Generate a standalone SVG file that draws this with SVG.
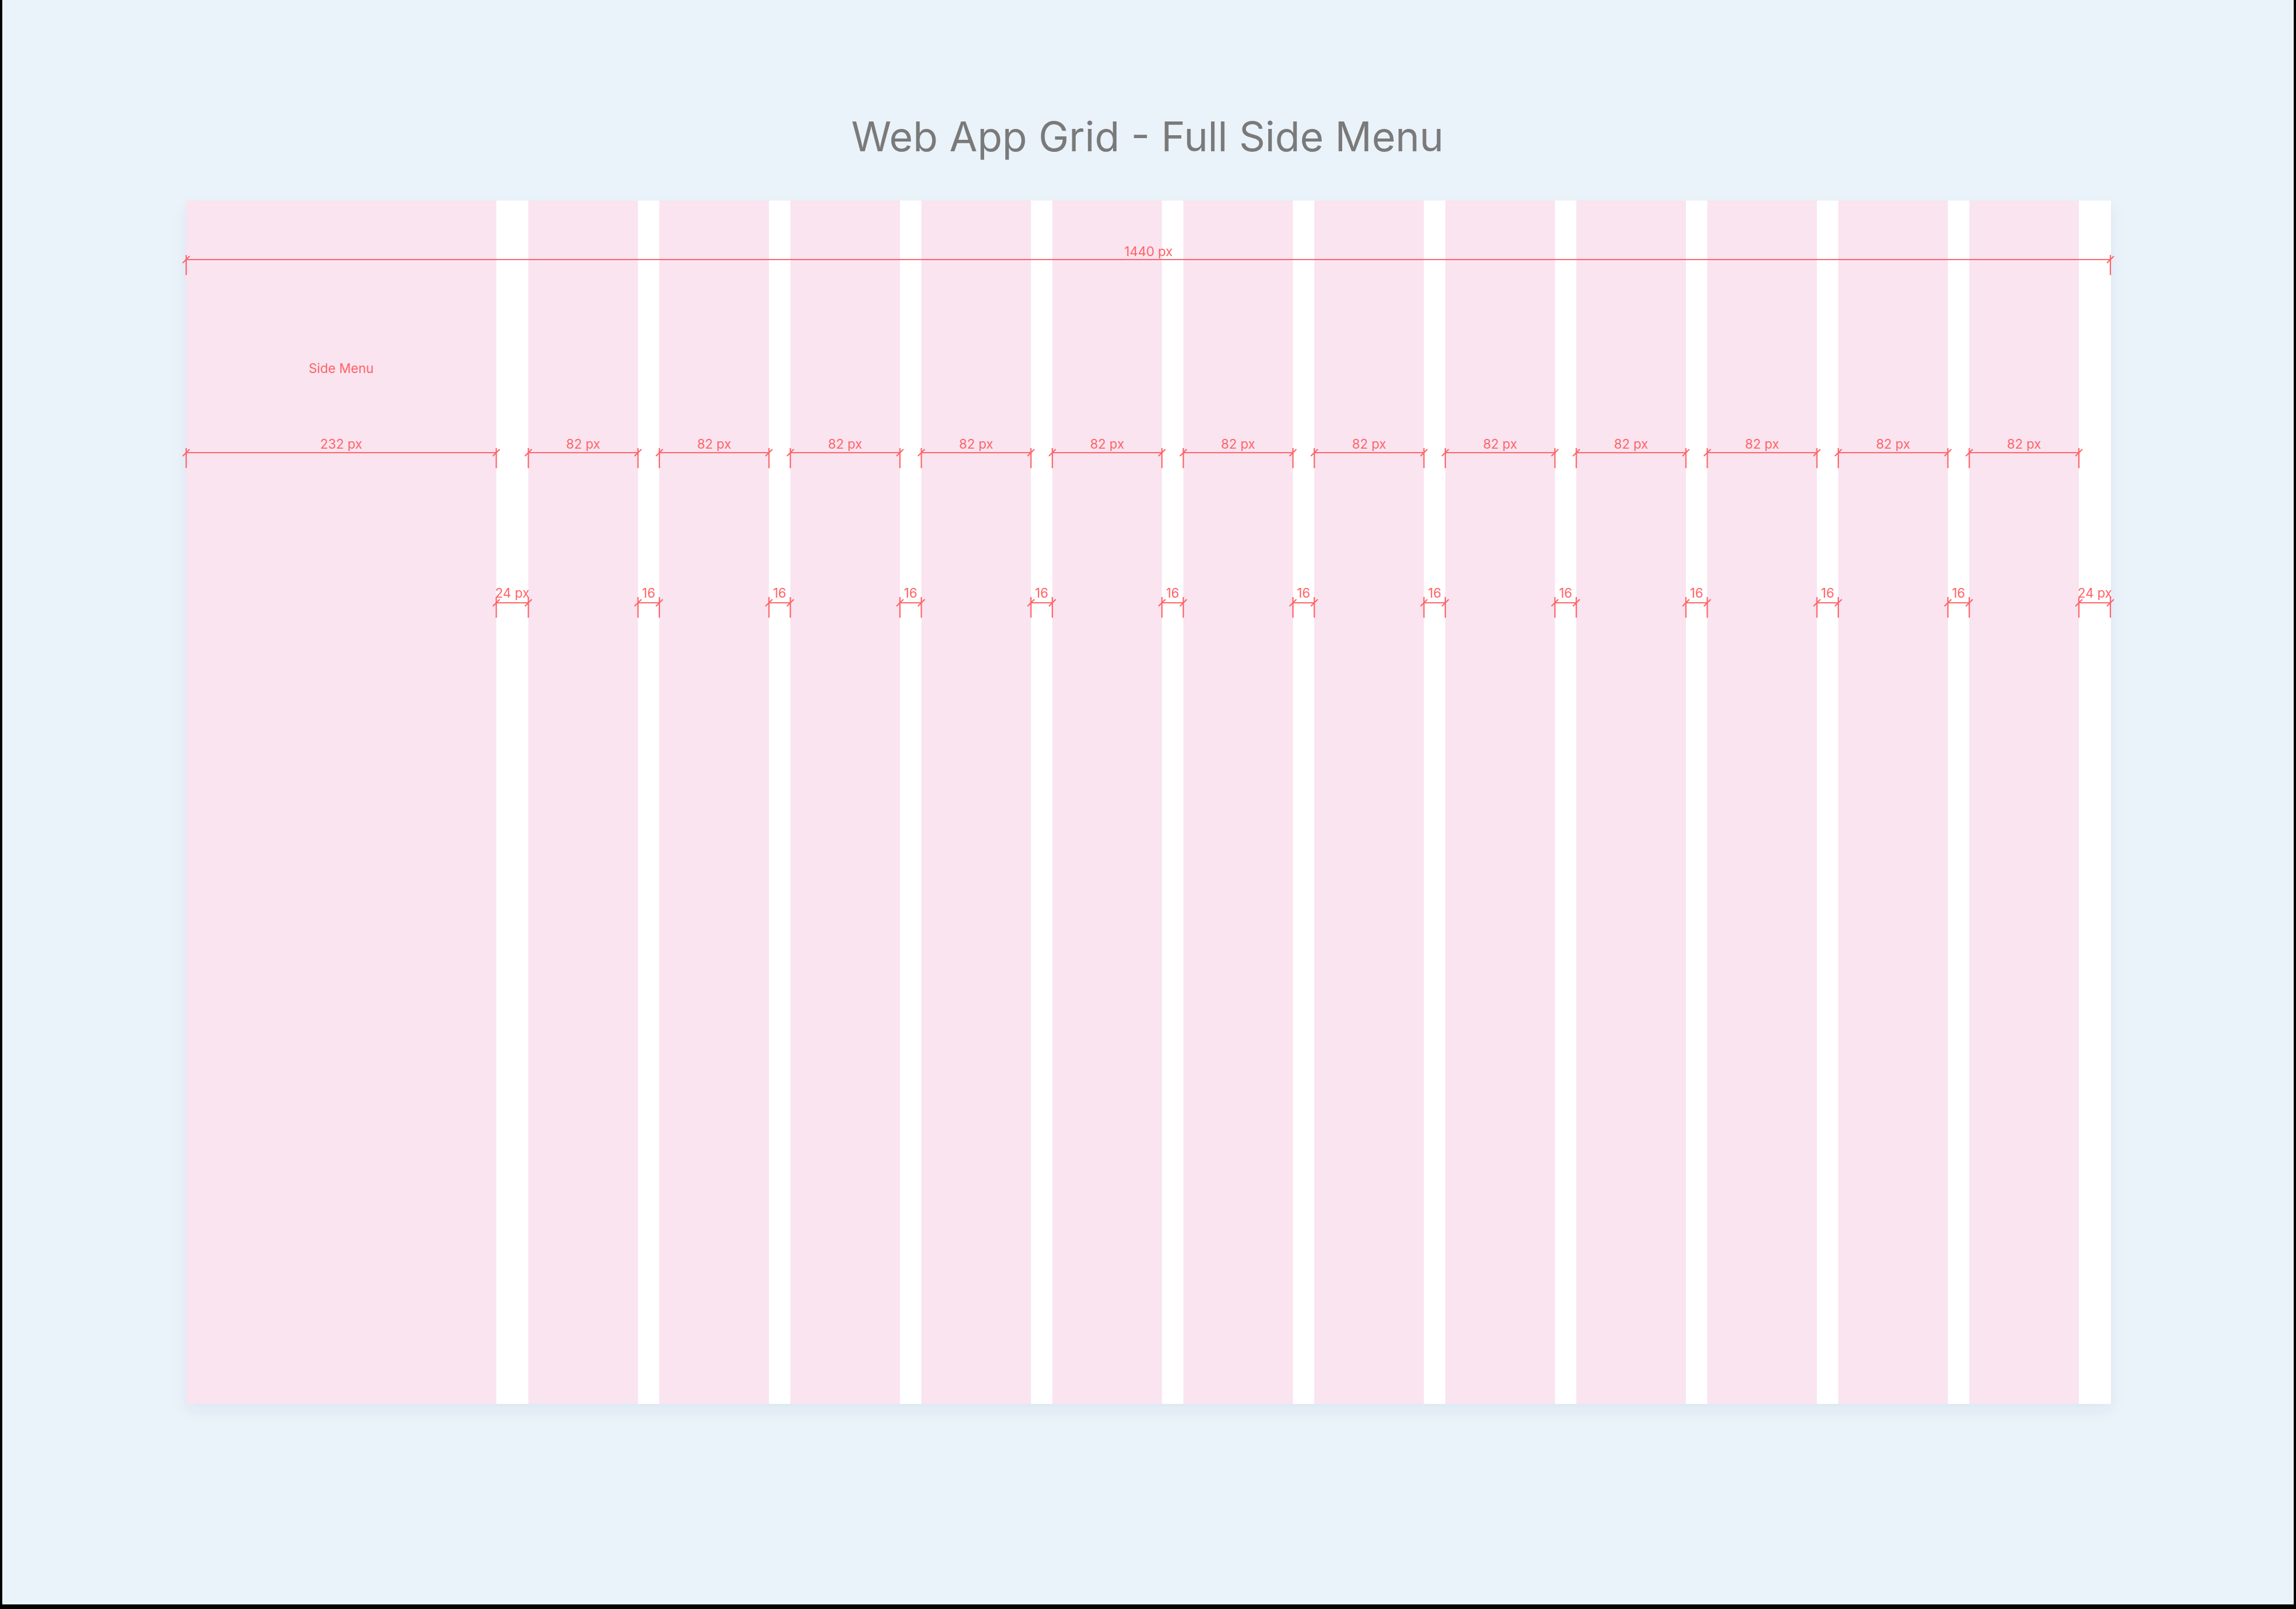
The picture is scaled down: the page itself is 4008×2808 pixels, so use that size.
<svg xmlns="http://www.w3.org/2000/svg" xmlns:xlink="http://www.w3.org/1999/xlink" width="4008" height="2808" viewBox="0 0 4008 2808">
  <style>
    .col { fill: #F9E4F0; }
    .dim { stroke: #FF6468; stroke-width: 2.2; fill: none; }
    .lbl { font-family: Inter, "Noto Sans", "Liberation Sans", sans-serif; font-size: 22.5px; fill: #FF6468; text-anchor: middle; }
    .title { font-family: Inter, "Noto Sans", "Liberation Sans", sans-serif; font-size: 71px; fill: #7A7A7A; text-anchor: middle; }
  </style>
  <defs>
    <filter id="shadow" x="-5%" y="-5%" width="110%" height="110%">
      <feDropShadow dx="0" dy="12" stdDeviation="12" flood-color="#1F3A5A" flood-opacity="0.06"/>
    </filter>
    <path id="tA" class="dim" d="M0,-8 V27 M-6,6 L6,-6"/>
    <path id="tB" class="dim" d="M0,-10 V26 M-6,6 L6,-6"/>
  </defs>

  <rect x="0" y="0" width="4008" height="2808" fill="#000"/>
  <rect x="4" y="0" width="4000" height="2800" fill="#EAF2FA"/>

  <g id="title">
    <text class="title" x="2003" y="264">Web App Grid - Full Side Menu</text>
  </g>

  <g id="grid">
    <rect x="325" y="350" width="3360" height="2100" fill="#FFFFFF" filter="url(#shadow)"/>
    <g id="side-menu">
      <rect class="col" x="325" y="350" width="541.33" height="2100"/>
      <text class="lbl" x="595.7" y="651">Side Menu</text>
    </g>
    <g id="columns">
      <rect id="col1" class="col" x="922.33" y="350" width="191.33" height="2100"/>
      <rect id="col2" class="col" x="1151" y="350" width="191.33" height="2100"/>
      <rect id="col3" class="col" x="1379.67" y="350" width="191.33" height="2100"/>
      <rect id="col4" class="col" x="1608.33" y="350" width="191.33" height="2100"/>
      <rect id="col5" class="col" x="1837" y="350" width="191.33" height="2100"/>
      <rect id="col6" class="col" x="2065.67" y="350" width="191.33" height="2100"/>
      <rect id="col7" class="col" x="2294.33" y="350" width="191.33" height="2100"/>
      <rect id="col8" class="col" x="2523" y="350" width="191.33" height="2100"/>
      <rect id="col9" class="col" x="2751.67" y="350" width="191.33" height="2100"/>
      <rect id="col10" class="col" x="2980.33" y="350" width="191.33" height="2100"/>
      <rect id="col11" class="col" x="3209" y="350" width="191.33" height="2100"/>
      <rect id="col12" class="col" x="3437.67" y="350" width="191.33" height="2100"/>
    </g>
  </g>

  <g id="dimensions">
    <g id="dim-total">
      <line class="dim" x1="325" y1="453" x2="3685" y2="453"/>
      <use href="#tA" x="325" y="453"/>
      <use href="#tA" x="3684" y="453"/>
      <text class="lbl" x="2005" y="447">1440 px</text>
    </g>

    <g id="dim-cols">
      <line class="dim" x1="325" y1="790" x2="866.33" y2="790"/>
      <use href="#tA" x="325" y="790"/><use href="#tA" x="866.33" y="790"/>
      <text class="lbl" x="595.7" y="783">232 px</text>

      <line class="dim" x1="922.33" y1="790" x2="1113.67" y2="790"/>
      <use href="#tA" x="922.33" y="790"/><use href="#tA" x="1113.67" y="790"/>
      <text class="lbl" x="1018" y="783">82 px</text>

      <line class="dim" x1="1151" y1="790" x2="1342.33" y2="790"/>
      <use href="#tA" x="1151" y="790"/><use href="#tA" x="1342.33" y="790"/>
      <text class="lbl" x="1246.67" y="783">82 px</text>

      <line class="dim" x1="1379.67" y1="790" x2="1571" y2="790"/>
      <use href="#tA" x="1379.67" y="790"/><use href="#tA" x="1571" y="790"/>
      <text class="lbl" x="1475.33" y="783">82 px</text>

      <line class="dim" x1="1608.33" y1="790" x2="1799.67" y2="790"/>
      <use href="#tA" x="1608.33" y="790"/><use href="#tA" x="1799.67" y="790"/>
      <text class="lbl" x="1704" y="783">82 px</text>

      <line class="dim" x1="1837" y1="790" x2="2028.33" y2="790"/>
      <use href="#tA" x="1837" y="790"/><use href="#tA" x="2028.33" y="790"/>
      <text class="lbl" x="1932.67" y="783">82 px</text>

      <line class="dim" x1="2065.67" y1="790" x2="2257" y2="790"/>
      <use href="#tA" x="2065.67" y="790"/><use href="#tA" x="2257" y="790"/>
      <text class="lbl" x="2161.33" y="783">82 px</text>

      <line class="dim" x1="2294.33" y1="790" x2="2485.67" y2="790"/>
      <use href="#tA" x="2294.33" y="790"/><use href="#tA" x="2485.67" y="790"/>
      <text class="lbl" x="2390" y="783">82 px</text>

      <line class="dim" x1="2523" y1="790" x2="2714.33" y2="790"/>
      <use href="#tA" x="2523" y="790"/><use href="#tA" x="2714.33" y="790"/>
      <text class="lbl" x="2618.67" y="783">82 px</text>

      <line class="dim" x1="2751.67" y1="790" x2="2943" y2="790"/>
      <use href="#tA" x="2751.67" y="790"/><use href="#tA" x="2943" y="790"/>
      <text class="lbl" x="2847.33" y="783">82 px</text>

      <line class="dim" x1="2980.33" y1="790" x2="3171.67" y2="790"/>
      <use href="#tA" x="2980.33" y="790"/><use href="#tA" x="3171.67" y="790"/>
      <text class="lbl" x="3076" y="783">82 px</text>

      <line class="dim" x1="3209" y1="790" x2="3400.33" y2="790"/>
      <use href="#tA" x="3209" y="790"/><use href="#tA" x="3400.33" y="790"/>
      <text class="lbl" x="3304.67" y="783">82 px</text>

      <line class="dim" x1="3437.67" y1="790" x2="3629" y2="790"/>
      <use href="#tA" x="3437.67" y="790"/><use href="#tA" x="3629" y="790"/>
      <text class="lbl" x="3533.33" y="783">82 px</text>
    </g>

    <g id="dim-gutters">
      <line class="dim" x1="866.33" y1="1052" x2="922.33" y2="1052"/>
      <use href="#tB" x="866.33" y="1052"/><use href="#tB" x="922.33" y="1052"/>
      <text class="lbl" x="894.33" y="1043">24 px</text>

      <line class="dim" x1="1113.67" y1="1052" x2="1151" y2="1052"/>
      <use href="#tB" x="1113.67" y="1052"/><use href="#tB" x="1151" y="1052"/>
      <text class="lbl" x="1132.33" y="1043">16</text>

      <line class="dim" x1="1342.33" y1="1052" x2="1379.67" y2="1052"/>
      <use href="#tB" x="1342.33" y="1052"/><use href="#tB" x="1379.67" y="1052"/>
      <text class="lbl" x="1361" y="1043">16</text>

      <line class="dim" x1="1571" y1="1052" x2="1608.33" y2="1052"/>
      <use href="#tB" x="1571" y="1052"/><use href="#tB" x="1608.33" y="1052"/>
      <text class="lbl" x="1589.67" y="1043">16</text>

      <line class="dim" x1="1799.67" y1="1052" x2="1837" y2="1052"/>
      <use href="#tB" x="1799.67" y="1052"/><use href="#tB" x="1837" y="1052"/>
      <text class="lbl" x="1818.33" y="1043">16</text>

      <line class="dim" x1="2028.33" y1="1052" x2="2065.67" y2="1052"/>
      <use href="#tB" x="2028.33" y="1052"/><use href="#tB" x="2065.67" y="1052"/>
      <text class="lbl" x="2047" y="1043">16</text>

      <line class="dim" x1="2257" y1="1052" x2="2294.33" y2="1052"/>
      <use href="#tB" x="2257" y="1052"/><use href="#tB" x="2294.33" y="1052"/>
      <text class="lbl" x="2275.67" y="1043">16</text>

      <line class="dim" x1="2485.67" y1="1052" x2="2523" y2="1052"/>
      <use href="#tB" x="2485.67" y="1052"/><use href="#tB" x="2523" y="1052"/>
      <text class="lbl" x="2504.33" y="1043">16</text>

      <line class="dim" x1="2714.33" y1="1052" x2="2751.67" y2="1052"/>
      <use href="#tB" x="2714.33" y="1052"/><use href="#tB" x="2751.67" y="1052"/>
      <text class="lbl" x="2733" y="1043">16</text>

      <line class="dim" x1="2943" y1="1052" x2="2980.33" y2="1052"/>
      <use href="#tB" x="2943" y="1052"/><use href="#tB" x="2980.33" y="1052"/>
      <text class="lbl" x="2961.67" y="1043">16</text>

      <line class="dim" x1="3171.67" y1="1052" x2="3209" y2="1052"/>
      <use href="#tB" x="3171.67" y="1052"/><use href="#tB" x="3209" y="1052"/>
      <text class="lbl" x="3190.33" y="1043">16</text>

      <line class="dim" x1="3400.33" y1="1052" x2="3437.67" y2="1052"/>
      <use href="#tB" x="3400.33" y="1052"/><use href="#tB" x="3437.67" y="1052"/>
      <text class="lbl" x="3419" y="1043">16</text>

      <line class="dim" x1="3629" y1="1052" x2="3685" y2="1052"/>
      <use href="#tB" x="3629" y="1052"/><use href="#tB" x="3684" y="1052"/>
      <text class="lbl" x="3657" y="1043">24 px</text>
    </g>
  </g>
</svg>
